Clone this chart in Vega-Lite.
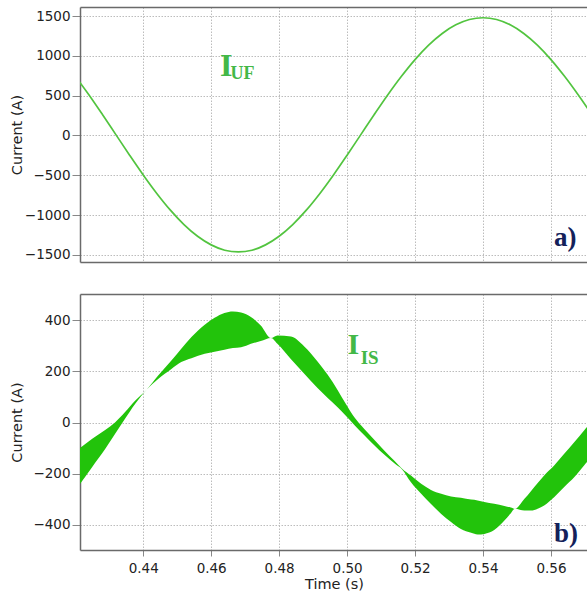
{
  "$schema": "https://vega.github.io/schema/vega-lite/v6.json",
  "padding": {"left": 9, "top": 7, "right": 0, "bottom": 0},
  "background": "white",
  "spacing": 32,
  "config": {
    "view": {"stroke": null},
    "font": "DejaVu Sans",
    "axis": {
      "labelFont": "DejaVu Sans", "labelFontSize": 13.5, "labelColor": "#222222",
      "titleFont": "DejaVu Sans", "titleFontSize": 14.5, "titleFontWeight": "normal", "titleColor": "#222222",
      "gridColor": "#bcbcbc", "gridDash": [1.5, 1.5], "gridWidth": 1,
      "domainColor": "#6a6a6a", "domainWidth": 1.5,
      "tickColor": "#888888", "tickWidth": 1
    }
  },
  "vconcat": [
    {
      "width": 508, "height": 255,
      "resolve": {"axis": {"x": "independent"}},
      "layer": [
        {
          "data": {"values": [
            {"t": 0.420, "v": 743}, {"t": 0.424, "v": 511}, {"t": 0.428, "v": 263}, {"t": 0.432, "v": 8},
            {"t": 0.436, "v": -247}, {"t": 0.440, "v": -495}, {"t": 0.444, "v": -727}, {"t": 0.448, "v": -937},
            {"t": 0.452, "v": -1118}, {"t": 0.456, "v": -1265}, {"t": 0.460, "v": -1373}, {"t": 0.464, "v": -1440},
            {"t": 0.468, "v": -1462}, {"t": 0.472, "v": -1440}, {"t": 0.476, "v": -1373}, {"t": 0.480, "v": -1265},
            {"t": 0.484, "v": -1118}, {"t": 0.488, "v": -937}, {"t": 0.492, "v": -727}, {"t": 0.496, "v": -495},
            {"t": 0.500, "v": -247}, {"t": 0.504, "v": 8}, {"t": 0.508, "v": 263}, {"t": 0.512, "v": 511},
            {"t": 0.516, "v": 743}, {"t": 0.520, "v": 953}, {"t": 0.524, "v": 1134}, {"t": 0.528, "v": 1281},
            {"t": 0.532, "v": 1389}, {"t": 0.536, "v": 1456}, {"t": 0.540, "v": 1478}, {"t": 0.544, "v": 1456},
            {"t": 0.548, "v": 1389}, {"t": 0.552, "v": 1281}, {"t": 0.556, "v": 1134}, {"t": 0.560, "v": 953},
            {"t": 0.564, "v": 743}, {"t": 0.568, "v": 511}, {"t": 0.572, "v": 263}
          ]},
          "mark": {"type": "line", "color": "#52c43f", "strokeWidth": 1.7, "interpolate": "monotone", "clip": true},
          "encoding": {
            "x": {"field": "t", "type": "quantitative",
                  "scale": {"domain": [0.4214, 0.5709], "nice": false, "zero": false},
                  "axis": {"orient": "bottom", "values": [0.44, 0.46, 0.48, 0.50, 0.52, 0.54, 0.56], "labels": false, "ticks": false, "grid": true, "title": null, "domain": true}},
            "y": {"field": "v", "type": "quantitative",
                  "scale": {"domain": [-1588, 1613], "nice": false, "zero": false},
                  "axis": {"values": [-1500, -1000, -500, 0, 500, 1000, 1500], "format": "d", "title": "Current (A)", "tickSize": 8, "labelPadding": 2, "minExtent": 49, "maxExtent": 49, "titlePadding": 7, "grid": true}}
          }
        },
        {
          "data": {"values": [{"t": 0.4626, "v": 747, "label": "I"}]},
          "mark": {"type": "text", "font": "Liberation Serif", "fontWeight": "bold", "fontSize": 32, "color": "#43b847", "align": "left", "baseline": "alphabetic"},
          "encoding": {
            "x": {"field": "t", "type": "quantitative", "axis": {"orient": "top", "labels": false, "ticks": false, "grid": false, "title": null, "domain": true}},
            "y": {"field": "v", "type": "quantitative"},
            "text": {"field": "label"}
          }
        },
        {
          "data": {"values": [{"t": 0.4657, "v": 715, "label": "UF"}]},
          "mark": {"type": "text", "font": "Liberation Serif", "fontWeight": "bold", "fontSize": 18, "color": "#43b847", "align": "left", "baseline": "alphabetic"},
          "encoding": {
            "x": {"field": "t", "type": "quantitative", "axis": null},
            "y": {"field": "v", "type": "quantitative"},
            "text": {"field": "label"}
          }
        },
        {
          "data": {"values": [{"t": 0.5609, "v": -1387, "label": "a)"}]},
          "mark": {"type": "text", "font": "Liberation Serif", "fontWeight": "bold", "fontSize": 27, "color": "#14215a", "align": "left", "baseline": "alphabetic"},
          "encoding": {
            "x": {"field": "t", "type": "quantitative", "axis": null},
            "y": {"field": "v", "type": "quantitative"},
            "text": {"field": "label"}
          }
        }
      ]
    },
    {
      "width": 508, "height": 256,
      "resolve": {"axis": {"x": "independent"}},
      "layer": [
        {
          "data": {"values": [
            {"t": 0.4214, "hi": -99, "lo": -240}, {"t": 0.4249, "hi": -64, "lo": -175}, {"t": 0.4288, "hi": -29, "lo": -103},
            {"t": 0.4317, "hi": 1, "lo": -44}, {"t": 0.4346, "hi": 41, "lo": 14}, {"t": 0.4376, "hi": 86, "lo": 73},
            {"t": 0.4410, "hi": 129, "lo": 129}, {"t": 0.4444, "hi": 184, "lo": 171}, {"t": 0.4483, "hi": 243, "lo": 210},
            {"t": 0.4512, "hi": 289, "lo": 237}, {"t": 0.4542, "hi": 335, "lo": 252}, {"t": 0.4581, "hi": 383, "lo": 269},
            {"t": 0.4610, "hi": 410, "lo": 277}, {"t": 0.4639, "hi": 429, "lo": 285}, {"t": 0.4664, "hi": 435, "lo": 292},
            {"t": 0.4688, "hi": 431, "lo": 295}, {"t": 0.4703, "hi": 424, "lo": 301}, {"t": 0.4717, "hi": 413, "lo": 308},
            {"t": 0.4746, "hi": 380, "lo": 319}, {"t": 0.4776, "hi": 331, "lo": 331}, {"t": 0.4795, "hi": 341, "lo": 308},
            {"t": 0.4835, "hi": 337, "lo": 248}, {"t": 0.4874, "hi": 298, "lo": 191}, {"t": 0.4913, "hi": 239, "lo": 135},
            {"t": 0.4943, "hi": 187, "lo": 96}, {"t": 0.4972, "hi": 128, "lo": 60}, {"t": 0.4997, "hi": 72, "lo": 26},
            {"t": 0.5022, "hi": 20, "lo": -10}, {"t": 0.5050, "hi": -24, "lo": -48}, {"t": 0.5080, "hi": -67, "lo": -88},
            {"t": 0.5110, "hi": -110, "lo": -126}, {"t": 0.5140, "hi": -150, "lo": -160}, {"t": 0.5162, "hi": -180, "lo": -183},
            {"t": 0.5188, "hi": -207, "lo": -233}, {"t": 0.5218, "hi": -239, "lo": -278}, {"t": 0.5247, "hi": -263, "lo": -318},
            {"t": 0.5277, "hi": -278, "lo": -357}, {"t": 0.5306, "hi": -289, "lo": -389}, {"t": 0.5335, "hi": -294, "lo": -416},
            {"t": 0.5365, "hi": -301, "lo": -431}, {"t": 0.5384, "hi": -304, "lo": -437}, {"t": 0.5404, "hi": -310, "lo": -435},
            {"t": 0.5433, "hi": -317, "lo": -420}, {"t": 0.5463, "hi": -326, "lo": -383}, {"t": 0.5482, "hi": -332, "lo": -354},
            {"t": 0.5494, "hi": -337, "lo": -337}, {"t": 0.5522, "hi": -298, "lo": -344}, {"t": 0.5541, "hi": -268, "lo": -344},
            {"t": 0.5561, "hi": -236, "lo": -337}, {"t": 0.5580, "hi": -207, "lo": -324}, {"t": 0.5610, "hi": -167, "lo": -291},
            {"t": 0.5639, "hi": -122, "lo": -252}, {"t": 0.5669, "hi": -76, "lo": -213}, {"t": 0.5698, "hi": -30, "lo": -167},
            {"t": 0.5712, "hi": -8, "lo": -145}
          ]},
          "mark": {"type": "area", "color": "#22c30b", "opacity": 1, "interpolate": "monotone", "clip": true},
          "encoding": {
            "x": {"field": "t", "type": "quantitative",
                  "scale": {"domain": [0.4214, 0.5709], "nice": false, "zero": false},
                  "axis": {"orient": "bottom", "values": [0.44, 0.46, 0.48, 0.50, 0.52, 0.54, 0.56], "format": ".2f", "tickSize": 6, "labelPadding": 5, "grid": true, "title": "Time (s)", "titlePadding": 3, "domain": true}},
            "y": {"field": "hi", "type": "quantitative",
                  "scale": {"domain": [-498, 503], "nice": false, "zero": false},
                  "axis": {"values": [-400, -200, 0, 200, 400], "format": "d", "title": "Current (A)", "tickSize": 8, "labelPadding": 2, "minExtent": 49, "maxExtent": 49, "titlePadding": 7, "grid": true}},
            "y2": {"field": "lo"}
          }
        },
        {
          "data": {"values": [{"t": 0.5001, "hi": 267, "label": "I"}]},
          "mark": {"type": "text", "font": "Liberation Serif", "fontWeight": "bold", "fontSize": 30, "color": "#43b847", "align": "left", "baseline": "alphabetic"},
          "encoding": {
            "x": {"field": "t", "type": "quantitative", "axis": {"orient": "top", "labels": false, "ticks": false, "grid": false, "title": null, "domain": true}},
            "y": {"field": "hi", "type": "quantitative"},
            "text": {"field": "label"}
          }
        },
        {
          "data": {"values": [{"t": 0.5040, "hi": 231, "label": "IS"}]},
          "mark": {"type": "text", "font": "Liberation Serif", "fontWeight": "bold", "fontSize": 19, "color": "#43b847", "align": "left", "baseline": "alphabetic"},
          "encoding": {
            "x": {"field": "t", "type": "quantitative", "axis": null},
            "y": {"field": "hi", "type": "quantitative"},
            "text": {"field": "label"}
          }
        },
        {
          "data": {"values": [{"t": 0.5609, "hi": -465, "label": "b)"}]},
          "mark": {"type": "text", "font": "Liberation Serif", "fontWeight": "bold", "fontSize": 27, "color": "#14215a", "align": "left", "baseline": "alphabetic"},
          "encoding": {
            "x": {"field": "t", "type": "quantitative", "axis": null},
            "y": {"field": "hi", "type": "quantitative"},
            "text": {"field": "label"}
          }
        }
      ]
    }
  ]
}
